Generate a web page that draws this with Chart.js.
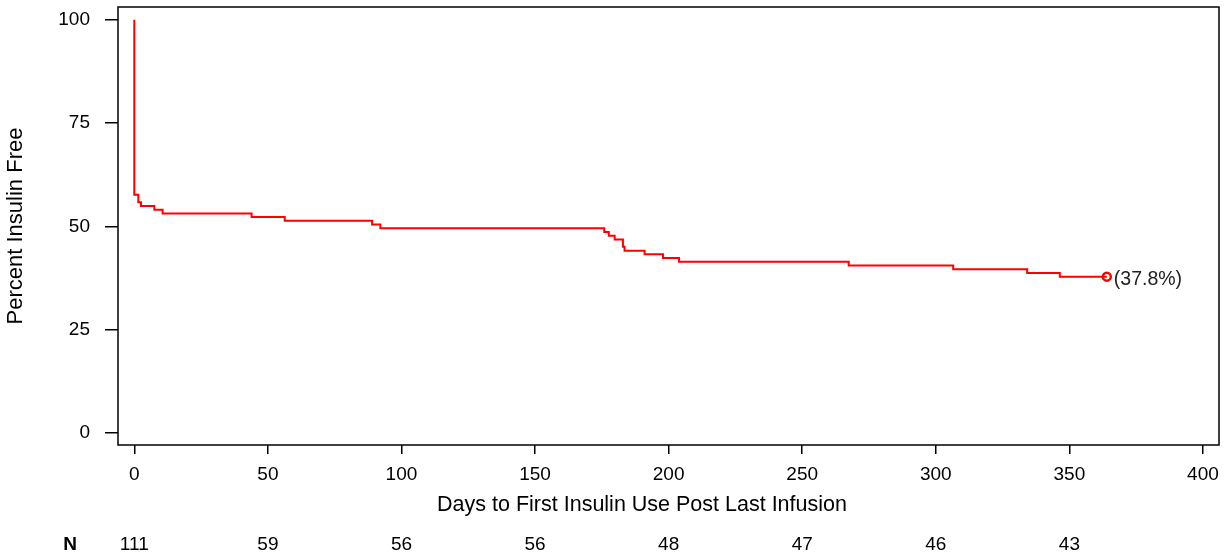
<!DOCTYPE html>
<html>
<head>
<meta charset="utf-8">
<script src="https://cdn.jsdelivr.net/npm/chart.js@4/dist/chart.umd.min.js"></script>
<style>
  html, body { margin: 0; padding: 0; background: #fff; }
  #wrap { width: 1228px; height: 559px; position: relative; }
</style>
</head>
<body>
<div id="wrap"><canvas id="kmChart"></canvas></div>
<script>
// Kaplan-Meier estimate
const days = [0, 1.5, 2.5, 7.5, 10.6, 43.9, 56.3, 89, 92.1, 175.9, 177.6, 179.8, 182.9, 183.5, 191, 197.9, 203.9, 267.4, 306.5, 334.2, 346.4, 355.2, 364];
const pctFree = [100, 57.66, 55.86, 54.95, 54.05, 53.15, 52.25, 51.35, 50.45, 49.55, 48.65, 47.75, 46.85, 45.05, 44.14, 43.24, 42.34, 41.44, 40.54, 39.64, 38.74, 37.84, 37.84];

const xTicks = [0, 50, 100, 150, 200, 250, 300, 350, 400];
const yTicks = [0, 25, 50, 75, 100];

// number at risk
const riskDays = [0, 50, 100, 150, 200, 250, 300, 350];
const atRisk = [111, 59, 56, 56, 48, 47, 46, 43];

const xTitle = 'Days to First Insulin Use Post Last Infusion';
const fontFam = "'Liberation Sans', Arial, Helvetica, sans-serif";
let element = document.getElementById("kmChart");

const points = days.map((d, i) => ({ x: d, y: pctFree[i] }));
const last = points.length - 1;

const extras = {
    id: 'extras',
    afterDraw(chart) {
        const ctx = chart.ctx;
        const a = chart.chartArea;
        const xs = chart.scales.x;
        ctx.save();
        // box round the plot
        ctx.strokeStyle = '#000';
        ctx.lineWidth = 1.5;
        ctx.strokeRect(a.left, a.top, a.right - a.left, a.bottom - a.top);

        // final estimate label
        const pt = chart.getDatasetMeta(0).data[last];
        ctx.fillStyle = '#222';
        ctx.font = '19.5px ' + fontFam;
        ctx.textAlign = 'left';
        ctx.textBaseline = 'middle';
        ctx.fillText('(' + pctFree[last].toFixed(1) + '%)', pt.x + 7, pt.y + 3);

        // x axis title
        ctx.fillStyle = '#000';
        ctx.textAlign = 'center';
        ctx.font = '21.5px ' + fontFam;
        ctx.fillText(xTitle, 642, 505);

        // number at risk row
        ctx.font = 'bold 19px ' + fontFam;
        ctx.fillText('N', 70, 545);
        ctx.font = '19px ' + fontFam;
        riskDays.forEach((d, i) => {
            ctx.fillText(String(atRisk[i]), xs.getPixelForValue(d), 545);
        });
        ctx.restore();
    }
};

const myChart = new Chart(element, {
    type: 'line',
    data: {
        datasets: [{
            label: 'Insulin free',
            data: points,
            stepped: 'after',
            borderColor: '#ff0000',
            borderWidth: 2,
            fill: false,
            pointRadius: c => c.dataIndex === last ? 4 : 0,
            pointBorderWidth: 2.5,
            pointBorderColor: '#ff0000',
            pointBackgroundColor: 'rgba(0,0,0,0)'
        }]
    },
    options: {
        responsive: true,
        maintainAspectRatio: false,
        animation: false,
        layout: { padding: { left: 0, top: 7, right: 9, bottom: 0 } },
        plugins: {
            legend: { display: false },
            tooltip: { enabled: false }
        },
        scales: {
            x: {
                type: 'linear',
                min: -6.1,
                max: 406,
                afterFit: s => { s.height = 114; s.paddingLeft = 0; s.paddingRight = 0; },
                afterBuildTicks: s => { s.ticks = xTicks.map(v => ({ value: v })); },
                grid: { display: true, drawOnChartArea: false, drawTicks: true, tickLength: 9, color: '#000', lineWidth: 1.5 },
                border: { display: false },
                ticks: { color: '#000', padding: 9, maxRotation: 0, font: { family: fontFam, size: 19 } }
            },
            y: {
                min: -2.9,
                max: 103.1,
                afterFit: s => { s.width = 118; s.paddingTop = 0; s.paddingBottom = 0; },
                afterBuildTicks: s => { s.ticks = yTicks.map(v => ({ value: v })); },
                grid: { display: true, drawOnChartArea: false, drawTicks: true, tickLength: 13, color: '#000', lineWidth: 1.5 },
                border: { display: false },
                ticks: { color: '#000', padding: 15, font: { family: fontFam, size: 19 } },
                title: {
                    display: true,
                    text: 'Percent Insulin Free',
                    color: '#000',
                    font: { family: fontFam, size: 22 },
                    padding: { top: 3, bottom: 0 }
                }
            }
        }
    },
    plugins: [extras]
});
</script>
</body>
</html>
